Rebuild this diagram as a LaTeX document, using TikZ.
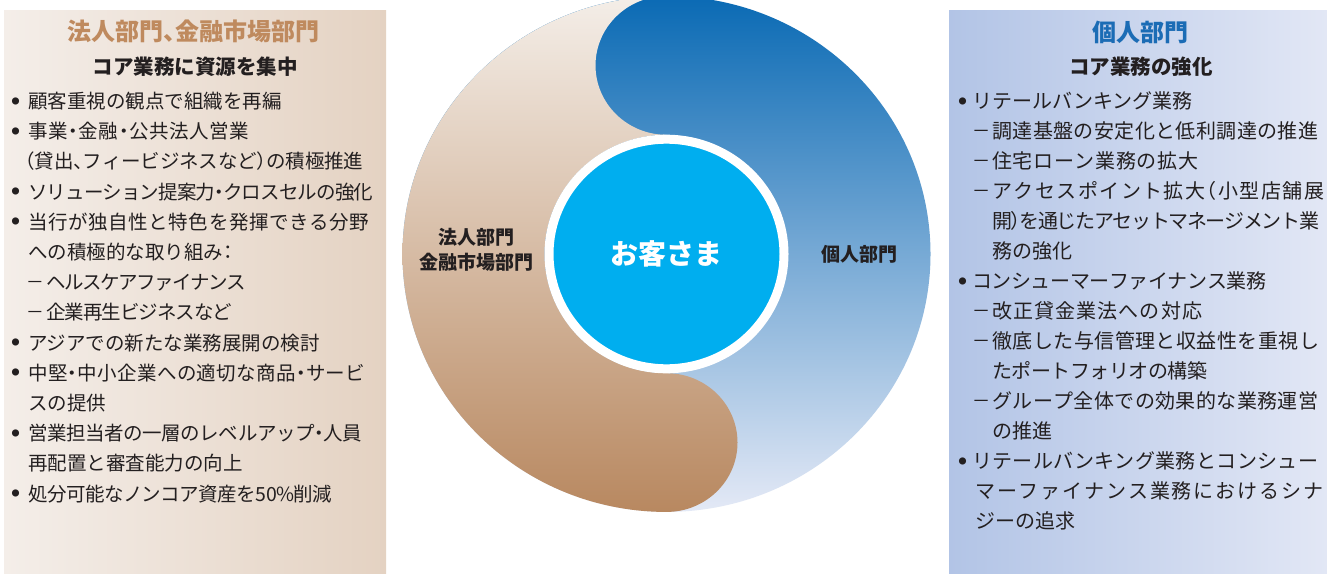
\documentclass[tikz,border=0pt]{standalone}
\usepackage{fontspec}
\usepackage{graphicx}
\setmainfont{Noto Sans CJK JP}
\newfontfamily\halfont{Noto Sans CJK JP}[RawFeature=+halt]
\usetikzlibrary{shapes.geometric}
\definecolor{txt}{HTML}{231F20}
\definecolor{titleBrown}{HTML}{BF8A5E}
\definecolor{titleBlue}{HTML}{1B6CB5}
\definecolor{lpL}{HTML}{F4EEE9}
\definecolor{lpR}{HTML}{E4D2C2}
\definecolor{rpL}{HTML}{B2C4E6}
\definecolor{rpR}{HTML}{E2E7F5}
\definecolor{bTop}{HTML}{0A6AB4}
\definecolor{bMid}{HTML}{94ACDA}
\definecolor{bBot}{HTML}{E4E9F6}
\definecolor{brTop}{HTML}{F4EEE8}
\definecolor{brMid}{HTML}{E7D6C7}
\definecolor{brBot}{HTML}{B88860}
\definecolor{custCyan}{HTML}{00AEEF}
\ExplSyntaxOn
\NewDocumentCommand\jus{mm}{\hbox_to_wd:nn{#1}{\tl_map_inline:nn{#2}{{##1}\hskip 0pt~plus~1fil~minus~1fil\relax}\unskip}}
\ExplSyntaxOff
\newcommand\bdot[1]{\raisebox{#1}{\fontsize{8}{8}\selectfont ●}}
\newcommand\dash{\raisebox{2.6pt}{\scalebox{1.5}[1]{–}}}
\newcommand\lb{\makebox[25pt][c]{\bdot{4.4pt}}}
\newcommand\lc{\hspace*{25pt}}
\newcommand\ld{\makebox[43pt][l]{\hspace*{24pt}\dash}}
\newcommand\rb{\makebox[19pt][c]{\bdot{4.6pt}}}
\newcommand\rc{\hspace*{39pt}}
\newcommand\rd{\makebox[39pt][l]{\hspace*{20.5pt}\dash}}
\newcommand\re{\hspace*{22pt}}
\begin{document}
\begin{tikzpicture}[x=1pt,y=-1pt,
  ltext/.style={anchor=base west,inner sep=0,text=txt,font=\fontsize{19.5}{24}\selectfont},
  rtext/.style={anchor=base west,inner sep=0,text=txt,font=\fontsize{20}{24}\selectfont},
  ttl/.style={anchor=base,inner sep=0,font=\bfseries\fontsize{24}{28}\selectfont},
  sub/.style={anchor=base,inner sep=0,text=txt,font=\bfseries\fontsize{20.5}{24}\selectfont},
  lbl/.style={inner sep=0,text=txt,font=\bfseries\fontsize{19}{25}\selectfont}]
\useasboundingbox (0,0) rectangle (1327,573);
\clip (0,0) rectangle (1327,573);
\fill[white] (0,0) rectangle (1327,573);
% panels
\shade[left color=lpL,right color=lpR] (4,10) rectangle (386,573);
\shade[left color=rpL,right color=rpR] (949,10) rectangle (1327,573);
% circle
\begin{scope}[shift={(666.5,254)},yscale=0.977]
  \shade[top color=bTop,middle color=bMid,bottom color=bBot] (0,0) circle[radius=264];
  \shade[top color=brTop,middle color=brMid,bottom color=brBot]
    (0,-264) arc[start angle=-90,end angle=-270,radius=71]
    arc[start angle=-90,end angle=-270,radius=122]
    arc[start angle=-90,end angle=90,radius=71]
    arc[start angle=90,end angle=270,radius=264] -- cycle;
\end{scope}
\node[ellipse,draw=white,line width=9pt,fill=custCyan,minimum width=235pt,minimum height=229.6pt,inner sep=0,
  text=white,font=\bfseries\fontsize{28}{32}\selectfont] (cust) at (666.5,254) {お客さま};
\node[lbl,align=center] (hojin) at (476.5,250) {法人部門\\金融市場部門};
\node[lbl] (kojin) at (859.5,254) {個人部門};
% left panel
\node[ttl,text=titleBrown] (lt1) at (193,40) {法人部門{\halfont 、}金融市場部門};
\node[sub] (lt2) at (195,74.8) {コア業務に資源を集中};
\foreach \t [count=\i] in {
 {\lb 顧客重視の観点で組織を再編},
 {\lb\jus{221pt}{事業{\halfont ・}金融{\halfont ・}公共法人営業}},
 {\hspace*{22pt}\jus{338pt}{{\halfont （}貸出{\halfont 、}フィービジネスなど{\halfont ）}の積極推進}},
 {\lb\jus{345pt}{ソリューション提案力{\halfont ・}クロスセルの強化}},
 {\lb\jus{341pt}{当行が独自性と特色を発揮できる分野}},
 {\lc への積極的な取り組み{\halfont ：}},
 {\ld\jus{200pt}{ヘルスケアファイナンス}},
 {\ld\jus{186pt}{企業再生ビジネスなど}},
 {\lb アジアでの新たな業務展開の検討},
 {\lb\jus{337pt}{中堅{\halfont ・}中小企業への適切な商品{\halfont ・}サービ}},
 {\lc スの提供},
 {\lb\jus{334pt}{営業担当者の一層のレベルアップ{\halfont ・}人員}},
 {\lc 再配置と審査能力の向上},
 {\lb\jus{304pt}{処分可能なノンコア資産を50\%削減}}
}{\node[ltext] (l\i) at (3,{78.2+30.2*\i}) {\t};}
% right panel
\node[ttl,text=titleBlue] (rt1) at (1140,41.3) {個人部門};
\node[sub] (rt2) at (1141,74.8) {コア業務の強化};
\foreach \t [count=\i] in {
 {\rb リテールバンキング業務},
 {\rd\jus{326pt}{調達基盤の安定化と低利調達の推進}},
 {\rd\jus{206pt}{住宅ローン業務の拡大}},
 {\rd\jus{332pt}{アクセスポイント拡大{\halfont （}小型店舗展}},
 {\rc\jus{327pt}{開{\halfont ）}を通じたアセットマネージメント業}},
 {\rc 務の強化},
 {\rb\jus{294pt}{コンシューマーファイナンス業務}},
 {\rd\jus{210pt}{改正貸金業法への対応}},
 {\rd\jus{327pt}{徹底した与信管理と収益性を重視し}},
 {\rc\jus{215pt}{たポートフォリオの構築}},
 {\rd\jus{326pt}{グループ全体での効果的な業務運営}},
 {\rc の推進},
 {\rb\jus{346pt}{リテールバンキング業務とコンシュー}},
 {\re\jus{348pt}{マーファイナンス業務におけるシナ}},
 {\re ジーの追求}
}{\node[rtext] (r\i) at (953,{78.6+30*\i}) {\t};}
\end{tikzpicture}
\end{document}
